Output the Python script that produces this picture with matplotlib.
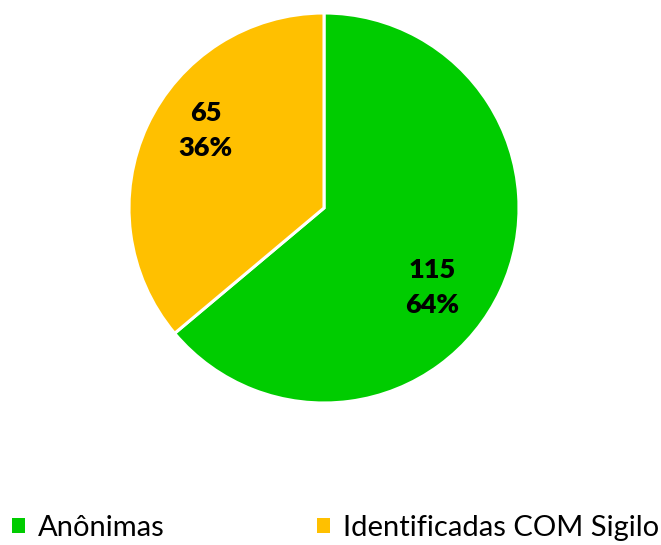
import numpy as np
import matplotlib
matplotlib.use("Agg")
import matplotlib.pyplot as plt
from matplotlib.patches import Patch

categories = ["Anônimas", "Identificadas COM Sigilo"]
values = [115, 65]
colors = ["#00CC00", "#FFC000"]

plt.rcParams['font.family'] = ['Lato', 'DejaVu Sans']

W, H = 661, 545
fig = plt.figure(figsize=(W/100, H/100), dpi=100)
cx, cy, r = 324, 208, 195
ax = fig.add_axes([(cx-r)/W, (H-cy-r)/H, 2*r/W, 2*r/H])
wedges, _ = ax.pie(values, colors=colors, startangle=90, counterclock=False,
                   radius=1, wedgeprops=dict(edgecolor='white', linewidth=2.2))
ax.set_xlim(-1, 1); ax.set_ylim(-1, 1)
ax.set_aspect('equal')
ax.axis('off')

total = sum(values)
offsets = [-11.3, -8.3]  # degrees adjustment from mid-angle
radii = [0.69, 0.725]
for w, v, off, rr in zip(wedges, values, offsets, radii):
    ang = np.deg2rad((w.theta1 + w.theta2) / 2 + off)
    x, y = rr*np.cos(ang), rr*np.sin(ang)
    ax.text(x, y, f"{v}\n{round(100*v/total)}%", ha='center', va='center',
            fontsize=19.5, fontweight='heavy', linespacing=1.55)

handles = [Patch(facecolor=c, edgecolor='none') for c in colors]
fig.legend(handles, categories, loc='center left', bbox_to_anchor=(12/W, 1-528/H),
           ncol=2, frameon=False, fontsize=21, handlelength=0.45, handleheight=0.45,
           handletextpad=0.45, columnspacing=5.2, borderpad=0, borderaxespad=0)

fig.savefig("out.png", dpi=100)
